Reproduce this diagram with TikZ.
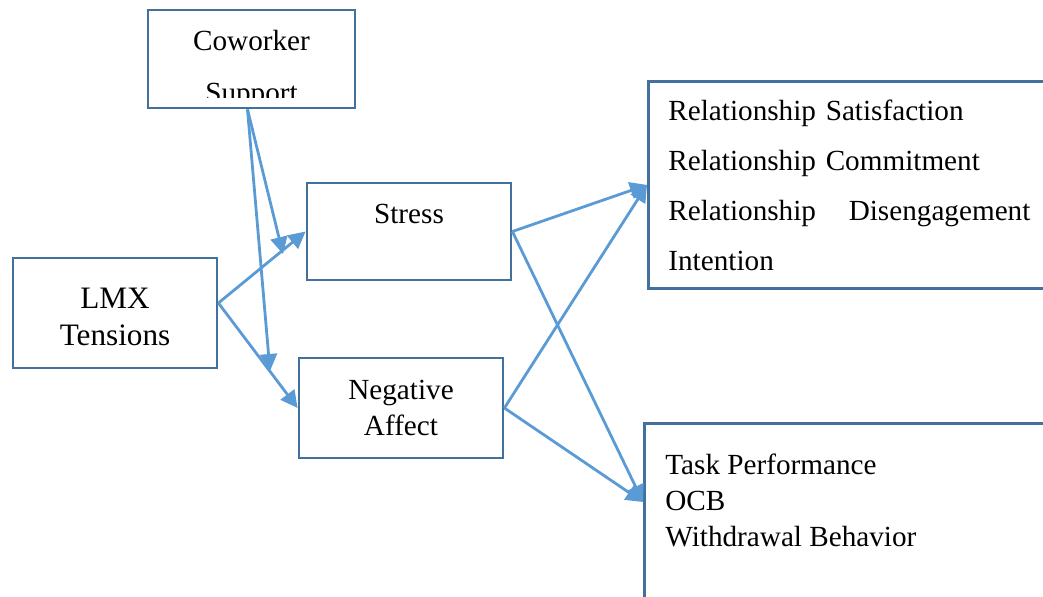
\documentclass[tikz,border=0pt]{standalone}
\usepackage{fontspec}
\setmainfont{Liberation Serif}
\usetikzlibrary{arrows.meta,positioning}
\definecolor{boxblue}{HTML}{41719C}
\definecolor{linkblue}{HTML}{5B9BD5}
\tikzset{
  box/.style={draw=boxblue, line width=1.4pt, rectangle, inner sep=0pt, align=center},
  link/.style={draw=linkblue, line width=1.4pt, -{Triangle[length=8.5pt,width=8.5pt]}}
}
\begin{document}
\begin{tikzpicture}[x=0.5pt, y=-0.5pt, font=\fontsize{14.6}{18}\selectfont]
      \clip (0,0) rectangle (1043,596);
      % moderator and predictors
      \node[box, minimum width=103.5pt, minimum height=49pt] (cow) at (251.5,59) {};
      \begin{scope}
        \clip (148,10) rectangle (355,97);
        \node[anchor=north, inner sep=0pt, align=center, font=\fontsize{14.6}{26}\selectfont] (cowtxt) at (251.5,30) {Coworker\\Support};
      \end{scope}
      \node[box, minimum width=102pt, minimum height=55pt, font=\fontsize{15.6}{18.5}\selectfont] (lmx) at (115,313) {\rule{0pt}{14.3pt}LMX\\Tensions};
      % mediators
      \node[box, minimum width=102pt, minimum height=48.5pt] (stress) at (409,231.5) {};
      \node (stresstxt) at (409,214) {Stress};
      \node[box, minimum width=102pt, minimum height=50pt] (neg) at (401,408) {Negative\\Affect};
      % outcomes
      \node[box, anchor=north west, minimum height=103.5pt, text width=220pt, inner xsep=10pt, align=left, font=\fontsize{14.6}{25}\selectfont] (out1) at (647,80)
        {Relationship Satisfaction\\Relationship Commitment\\\makebox[181pt][s]{Relationship\hfill Disengagement}\\Intention};
      \node[box, anchor=north west, minimum width=240pt, minimum height=125pt] (out2) at (643,422) {};
      \node[anchor=north west, inner sep=0pt, align=left] (out2txt) at (665,454) {Task Performance\\OCB\\Withdrawal Behavior};
      % paths
      \coordinate (sup1) at (283,254);
      \coordinate (sup2) at (270,371);
      \draw[link] ([xshift=-2pt]cow.south) -- (sup1);
      \draw[link] ([xshift=-2pt]cow.south) -- (sup2);
      \draw[link] ([yshift=5pt]lmx.east) -- (stress.west);
      \draw[link] ([yshift=5pt]lmx.east) -- (neg.west);
      \draw[link] (stress.east) -- (out1.west);
      \draw[link] (stress.east) -- ([yshift=-40pt]out2.north west);
      \draw[link] (neg.east) -- (out1.west);
      \draw[link] (neg.east) -- ([yshift=-40pt]out2.north west);
    \end{tikzpicture}
\end{document}
